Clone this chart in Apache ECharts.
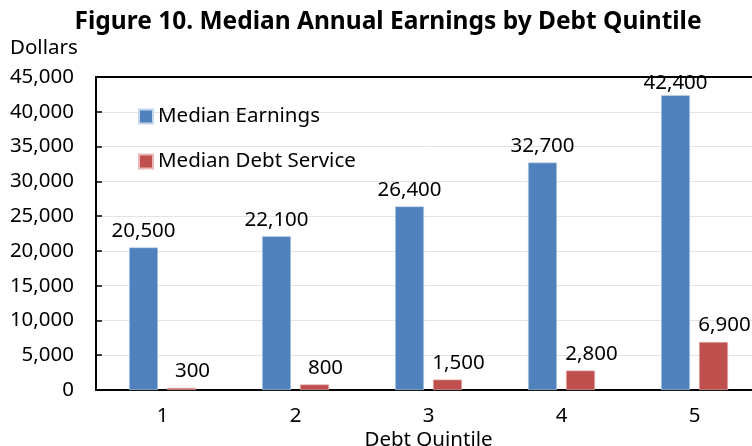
<!DOCTYPE html>
<html>
<head>
<meta charset="utf-8">
<script src="https://cdn.jsdelivr.net/npm/echarts@6/dist/echarts.min.js"></script>
<style>
  html, body { margin: 0; padding: 0; background: #fff; }
  #chart { width: 752px; height: 446px; }
</style>
</head>
<body>
<div id="chart"></div>
<script>
// data
var quintiles = ['1', '2', '3', '4', '5'];
var medianEarnings = [20500, 22100, 26400, 32700, 42400];
var medianDebtService = [300, 800, 1500, 2800, 6900];

var FONT = '"Noto Sans", "Open Sans", sans-serif';

function fmt(p) { return p.value.toLocaleString('en-US'); }

var chart = echarts.init(document.getElementById('chart'));

// the tallest bar's label is squeezed against the top frame in the original
var earningsData = medianEarnings.map(function (v, i) {
  return i === medianEarnings.length - 1 ? { value: v, label: { distance: 1 } } : v;
});

chart.setOption({
  animation: false,
  textStyle: { fontFamily: FONT, color: '#000' },
  title: {
    text: 'Figure 10. Median Annual Earnings by Debt Quintile',
    left: 383,
    textAlign: 'center',
    top: 5,
    textStyle: { fontFamily: FONT, fontWeight: 'bold', fontSize: 24.5, color: '#000' }
  },
  graphic: [{
    type: 'text',
    left: 10,
    top: 38,
    style: { text: 'Dollars', font: '20.5px ' + FONT, fill: '#000' }
  }],
  legend: {
    orient: 'vertical',
    left: 138,
    top: 106,
    padding: 0,
    itemWidth: 14,
    itemHeight: 14,
    itemGap: 24,
    icon: 'rect',
    textStyle: { fontFamily: FONT, fontSize: 20.5, color: '#000' },
    data: ['Median Earnings', 'Median Debt Service']
  },
  grid: { left: 96, top: 77, width: 665, height: 313, outerBoundsMode: 'none' },
  xAxis: [{
    type: 'category',
    data: quintiles,
    name: 'Debt Quintile',
    nameLocation: 'middle',
    nameMoveOverlap: false,
    nameGap: 40,
    nameTextStyle: { fontFamily: FONT, fontSize: 20.5, color: '#000' },
    axisLine: { lineStyle: { color: '#000', width: 2 } },
    axisTick: { inside: true, length: 6, lineStyle: { color: '#000', width: 1.5 } },
    axisLabel: { fontFamily: FONT, fontSize: 20.5, color: '#000', margin: 16 }
  }, {
    type: 'category',
    position: 'top',
    data: quintiles,
    axisLine: { lineStyle: { color: '#000', width: 2 } },
    axisTick: { show: false },
    axisLabel: { show: false }
  }],
  yAxis: {
    type: 'value',
    min: 0,
    max: 45000,
    interval: 5000,
    axisLine: { show: true, lineStyle: { color: '#000', width: 2 } },
    axisTick: { show: true, inside: true, length: 6, lineStyle: { color: '#000', width: 1.5 } },
    axisLabel: {
      fontFamily: FONT, fontSize: 20.5, color: '#000', margin: 22,
      formatter: function (v) { return v.toLocaleString('en-US'); }
    },
    splitLine: { lineStyle: { color: '#e4e4e4', width: 1 } }
  },
  series: [{
    name: 'Median Earnings',
    type: 'bar',
    data: earningsData,
    barWidth: 29,
    barGap: '31%',
    itemStyle: { color: '#4F81BD', borderColor: '#c6d6ea', borderWidth: 0.6 },
    label: {
      show: true,
      position: 'top',
      distance: 6,
      fontFamily: FONT,
      fontSize: 20.5,
      color: '#000',
      formatter: fmt
    }
  }, {
    name: 'Median Debt Service',
    type: 'bar',
    data: medianDebtService,
    barWidth: 29,
    itemStyle: { color: '#C0504D', borderColor: '#e8b9b8', borderWidth: 0.6 },
    label: {
      show: true,
      position: 'top',
      distance: 6,
      offset: [11, 0],
      fontFamily: FONT,
      fontSize: 20.5,
      color: '#000',
      formatter: fmt
    }
  }]
});
</script>
</body>
</html>
